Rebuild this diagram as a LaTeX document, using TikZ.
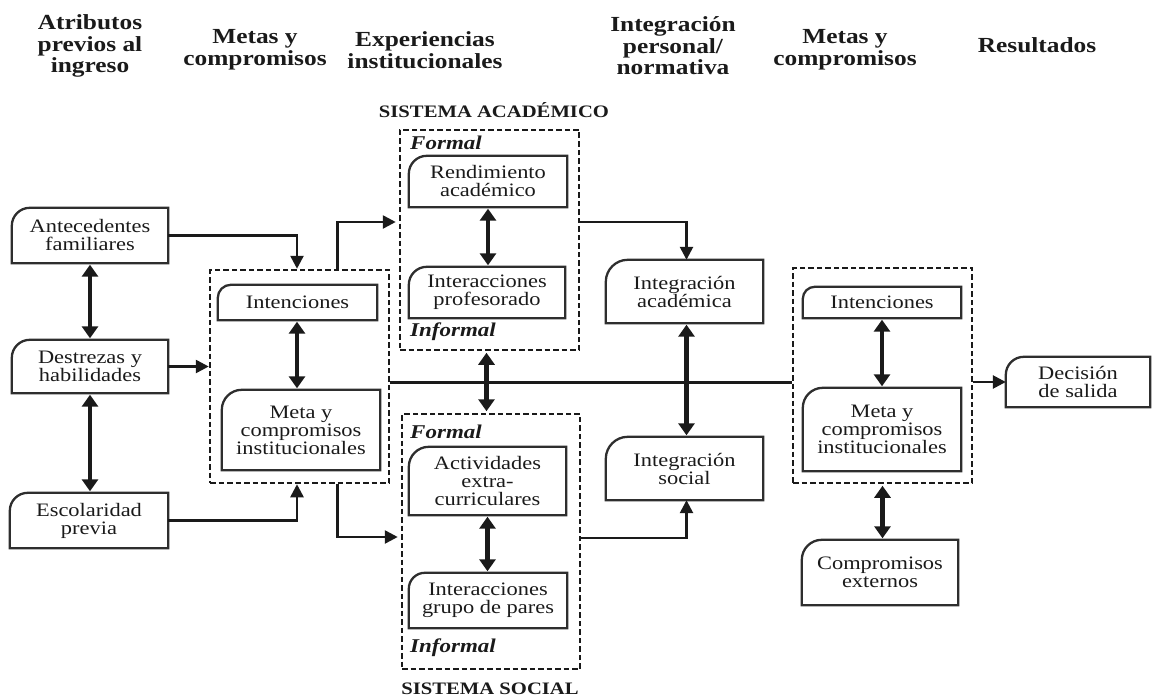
\documentclass[tikz,border=0pt]{standalone}
\usepackage{fontspec}
\setmainfont{Liberation Serif}[FakeStretch=1.18]
\usetikzlibrary{arrows.meta}
\definecolor{ink}{HTML}{1A1A1A}
\definecolor{boxc}{HTML}{2E2E2E}
\newcommand\tbox[7]{%
  \node[bx, minimum width={(#4-#2)*1pt}, minimum height={(#5-#3)*1pt}] (#1) at ({(#2+#4)/2},{(#3+#5)/2}) {#7};
  \draw[draw=boxc, line width=2.3pt] (#1.south west) -- ([yshift=-#6pt]#1.north west)
    arc[start angle=180, end angle=90, radius=#6pt] -- (#1.north east) -- (#1.south east) -- cycle;}
\begin{document}
\begin{tikzpicture}[x=1pt,y=-1pt,
  bx/.style={inner sep=0pt, align=center, text=ink, font=\fontsize{19}{18}\selectfont},
  hd/.style={align=center, text=ink, inner sep=0pt, font=\bfseries\fontsize{21.5}{21.5}\selectfont},
  dbox/.style={draw=ink, line width=2.5pt, dash pattern=on 5.5pt off 3pt, inner sep=0pt},
  arr/.style={draw=ink, line width=2.6pt, -{Triangle[length=13pt,width=13pt]}},
  darr/.style={draw=ink, line width=4.3pt, {Triangle[length=12pt,width=16pt]}-{Triangle[length=12pt,width=16pt]}, shorten <=1.5pt, shorten >=1.5pt},
  lab/.style={anchor=west, inner sep=0pt, text=ink, font=\bfseries\itshape\fontsize{19.5}{19}\selectfont},
  sys/.style={inner sep=0pt, text=ink, font=\bfseries\fontsize{17.5}{17}\selectfont}
]
\useasboundingbox (0,0) rectangle (1159,698);

% headers
\node[hd] (h1) at (90,46) {Atributos\\previos al\\ingreso};
\node[hd] (h2) at (255,50) {Metas y\\compromisos};
\node[hd] (h3) at (425,50) {Experiencias\\institucionales};
\node[hd] (h4) at (673,46) {Integración\\personal/\\normativa};
\node[hd] (h5) at (845,50) {Metas y\\compromisos};
\node[hd] (h6) at (1037,45) {Resultados};

% dashed groups
\node[dbox, minimum width=179pt, minimum height=213pt] (mg1) at (299.5,376.5) {};
\node[dbox, minimum width=179pt, minimum height=220pt] (acad) at (489.5,240) {};
\node[dbox, minimum width=178pt, minimum height=255pt] (soc) at (491,541.5) {};
\node[dbox, minimum width=179pt, minimum height=215pt] (mgR) at (882.5,375.5) {};

\node[sys] (sa) at (494,110) {SISTEMA ACADÉMICO};
\node[sys] (ss) at (490,689) {SISTEMA SOCIAL};
\node[lab] (f1) at (410,143) {Formal};
\node[lab] (i1) at (410,332) {Informal};
\node[lab] (f2) at (410,432) {Formal};
\node[lab] (i2) at (410,648) {Informal};

% boxes
\tbox{ant}{12}{208}{168}{263}{18}{Antecedentes\\familiares}
\tbox{des}{12}{340}{168}{393}{18}{Destrezas y\\habilidades}
\tbox{esc}{10}{493}{168}{548}{18}{Escolaridad\\previa}
\tbox{int1}{218}{285}{377}{320}{13}{Intenciones}
\tbox{met1}{222}{390}{380}{470}{20}{Meta y\\compromisos\\institucionales}
\tbox{rend}{409}{156}{567}{207}{18}{Rendimiento\\académico}
\tbox{intp}{409}{267}{565}{318}{18}{Interacciones\\profesorado}
\tbox{act}{409}{447}{566}{515}{20}{Actividades\\extra-\\curriculares}
\tbox{igp}{409}{573}{567}{628}{16}{Interacciones\\grupo de pares}
\tbox{intA}{606}{260}{763}{323}{22}{Integración\\académica}
\tbox{intS}{606}{437}{763}{500}{22}{Integración\\social}
\tbox{intR}{803}{287}{961}{318}{12}{Intenciones}
\tbox{metR}{803}{388}{961}{471}{20}{Meta y\\compromisos\\institucionales}
\tbox{dec}{1006}{357}{1150}{407}{18}{Decisión\\de salida}
\tbox{comp}{802}{540}{958}{605}{20}{Compromisos\\externos}

% connectors
\draw[ink, line width=3pt] ([yshift=-5.5pt]mg1.east) -- ([yshift=-5.5pt]mg1.east -| mgR.west);
\draw[arr] (ant) -| ([xshift=-2.5pt]mg1.north);
\draw[arr] (esc) -| ([xshift=-2.5pt]mg1.south);
\draw[arr] (des) -- (des -| mg1.west);
\draw[arr, shorten >=3pt] ([xshift=38pt]mg1.north) |- ([yshift=18pt]acad.west);
\draw[arr, shorten >=3pt] ([xshift=38pt]mg1.south) |- ([yshift=4.5pt]soc.west);
\draw[arr] ([yshift=18pt]acad.east) -| ([xshift=2pt]intA.north);
\draw[arr] ([yshift=3.5pt]soc.east) -| ([xshift=2pt]intS.south);
\draw[arr] (mgR.east |- dec.west) -- (dec.west);

\draw[darr] (ant.south) -- (ant.south |- des.north);
\draw[darr] (des.south) -- (des.south |- esc.north);
\draw[darr] ([xshift=-0.5pt]int1.south) -- ([xshift=-0.5pt]int1.south |- met1.north);
\draw[darr] (rend.south) -- (rend.south |- intp.north);
\draw[darr] ([xshift=-3pt]acad.south) -- ([xshift=-3pt]acad.south |- soc.north);
\draw[darr] (act.south) -- (act.south |- igp.north);
\draw[darr] ([xshift=2pt]intA.south) -- ([xshift=2pt]intA.south |- intS.north);
\draw[darr] (intR.south) -- (intR.south |- metR.north);
\draw[darr] (mgR.south) -- (mgR.south |- comp.north);
\end{tikzpicture}
\end{document}
